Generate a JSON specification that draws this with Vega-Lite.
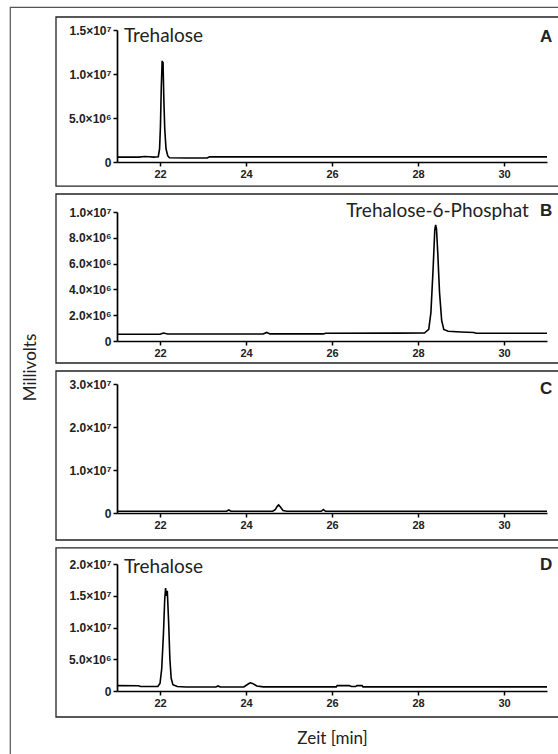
{
  "$schema": "https://vega.github.io/schema/vega-lite/v6.json",
  "width": 550,
  "height": 749,
  "padding": {"left": 10, "top": 7, "right": 0, "bottom": 0},
  "background": "white",
  "config": {
    "view": {"stroke": "#555", "strokeWidth": 1.2},
    "axis": {
      "grid": false,
      "domainColor": "black",
      "domainWidth": 1.7,
      "tickColor": "black",
      "tickWidth": 1.5,
      "tickSize": 4,
      "labelFont": "Liberation Sans",
      "labelFontWeight": "bold",
      "labelFontSize": 11,
      "labelColor": "#222",
      "labelPadding": 2,
      "titleFont": "Lato",
      "titleFontWeight": "normal",
      "titleFontSize": 17,
      "titleColor": "#222"
    },
    "axisY": {"labelFontSize": 12},
    "text": {"font": "Lato", "fontSize": 19, "color": "#222"}
  },
  "datasets": {
    "A": [
      {"t": 21.0, "mv": 550000}, {"t": 21.5, "mv": 550000}, {"t": 21.65, "mv": 620000}, {"t": 21.75, "mv": 600000},
      {"t": 21.85, "mv": 550000}, {"t": 21.96, "mv": 600000}, {"t": 21.99, "mv": 1500000}, {"t": 22.01, "mv": 4000000},
      {"t": 22.03, "mv": 8500000}, {"t": 22.05, "mv": 11500000}, {"t": 22.06, "mv": 11200000}, {"t": 22.07, "mv": 11400000},
      {"t": 22.09, "mv": 7000000}, {"t": 22.11, "mv": 3800000}, {"t": 22.14, "mv": 1500000}, {"t": 22.18, "mv": 700000},
      {"t": 22.22, "mv": 480000}, {"t": 22.6, "mv": 450000}, {"t": 23.1, "mv": 450000}, {"t": 23.15, "mv": 580000},
      {"t": 25.0, "mv": 580000}, {"t": 28.0, "mv": 580000}, {"t": 31.0, "mv": 580000}
    ],
    "B": [
      {"t": 21.0, "mv": 520000}, {"t": 22.0, "mv": 520000}, {"t": 22.08, "mv": 620000}, {"t": 22.18, "mv": 540000},
      {"t": 23.3, "mv": 540000}, {"t": 24.4, "mv": 540000}, {"t": 24.48, "mv": 660000}, {"t": 24.56, "mv": 550000},
      {"t": 25.8, "mv": 550000}, {"t": 25.85, "mv": 600000}, {"t": 27.5, "mv": 610000}, {"t": 28.15, "mv": 620000},
      {"t": 28.25, "mv": 900000}, {"t": 28.3, "mv": 2200000}, {"t": 28.35, "mv": 5500000}, {"t": 28.39, "mv": 8600000},
      {"t": 28.41, "mv": 9000000}, {"t": 28.43, "mv": 8700000}, {"t": 28.46, "mv": 6800000}, {"t": 28.5, "mv": 3800000},
      {"t": 28.55, "mv": 1600000}, {"t": 28.6, "mv": 900000}, {"t": 28.7, "mv": 750000}, {"t": 29.0, "mv": 700000},
      {"t": 29.3, "mv": 660000}, {"t": 29.35, "mv": 600000}, {"t": 31.0, "mv": 600000}
    ],
    "C": [
      {"t": 21.0, "mv": 400000}, {"t": 23.55, "mv": 400000}, {"t": 23.6, "mv": 700000}, {"t": 23.65, "mv": 400000},
      {"t": 24.62, "mv": 400000}, {"t": 24.68, "mv": 800000}, {"t": 24.73, "mv": 1600000}, {"t": 24.76, "mv": 1900000},
      {"t": 24.8, "mv": 1400000}, {"t": 24.86, "mv": 600000}, {"t": 24.95, "mv": 420000}, {"t": 25.75, "mv": 400000},
      {"t": 25.8, "mv": 800000}, {"t": 25.85, "mv": 400000}, {"t": 31.0, "mv": 400000}
    ],
    "D": [
      {"t": 21.0, "mv": 850000}, {"t": 21.5, "mv": 830000}, {"t": 21.55, "mv": 700000}, {"t": 21.95, "mv": 700000},
      {"t": 22.0, "mv": 1200000}, {"t": 22.04, "mv": 3500000}, {"t": 22.08, "mv": 9000000}, {"t": 22.11, "mv": 14500000},
      {"t": 22.13, "mv": 16200000}, {"t": 22.15, "mv": 15000000}, {"t": 22.17, "mv": 15800000}, {"t": 22.2, "mv": 11000000},
      {"t": 22.23, "mv": 5000000}, {"t": 22.26, "mv": 2000000}, {"t": 22.3, "mv": 1000000}, {"t": 22.4, "mv": 700000},
      {"t": 22.6, "mv": 620000}, {"t": 23.3, "mv": 620000}, {"t": 23.35, "mv": 800000}, {"t": 23.4, "mv": 620000},
      {"t": 23.95, "mv": 650000}, {"t": 24.05, "mv": 1100000}, {"t": 24.1, "mv": 1300000}, {"t": 24.15, "mv": 1200000},
      {"t": 24.25, "mv": 800000}, {"t": 24.4, "mv": 650000}, {"t": 26.1, "mv": 650000}, {"t": 26.12, "mv": 850000},
      {"t": 26.4, "mv": 850000}, {"t": 26.45, "mv": 700000}, {"t": 26.55, "mv": 700000}, {"t": 26.58, "mv": 850000},
      {"t": 26.7, "mv": 850000}, {"t": 26.72, "mv": 650000}, {"t": 31.0, "mv": 650000}
    ]
  },
  "layer": [
    {
      "data": {"values": [{"panel": "A"}, {"panel": "B"}, {"panel": "C"}, {"panel": "D"}]},
      "mark": {"type": "rect", "fill": "transparent", "stroke": "#222", "strokeWidth": 1.3, "clip": true},
      "encoding": {
        "y": {
          "field": "panel", "type": "nominal",
          "scale": {"range": [10, 710], "paddingInner": 0.045, "paddingOuter": 0},
          "axis": {"orient": "left", "labels": false, "ticks": false, "domain": false, "title": "Millivolts", "titleX": 25, "titleBaseline": "alphabetic"}
        },
        "x": {
          "datum": "frame", "type": "nominal",
          "scale": {"range": [46, 570], "paddingInner": 0, "paddingOuter": 0},
          "axis": null
        }
      }
    },
    {
      "data": {"name": "A"},
      "layer": [
        {
          "mark": {"type": "line", "color": "black", "strokeWidth": 1.6},
          "encoding": {
            "x": {"field": "t", "type": "quantitative", "scale": {"domain": [21, 31], "range": [107, 537], "nice": false, "zero": false},
                  "axis": {"orient": "bottom", "offset": -594, "values": [22, 24, 26, 28, 30], "title": null}},
            "y": {"field": "mv", "type": "quantitative", "scale": {"domain": [0, 15000000], "range": [155, 23], "nice": false},
                  "axis": {"orient": "left", "offset": -107, "values": [0, 5000000, 10000000, 15000000], "title": null,
                           "labelExpr": "datum.value == 0 ? '0' : datum.value >= 9999999 ? format(datum.value/10000000, '.1f') + '×10⁷' : format(datum.value/1000000, '.1f') + '×10⁶'"}}
          }
        },
        {
          "data": {"values": [{}]},
          "mark": {"type": "text", "align": "left", "baseline": "middle"},
          "encoding": {"x": {"datum": 21.16}, "y": {"datum": 14300000}, "text": {"value": "Trehalose"}}
        },
        {
          "data": {"values": [{}]},
          "mark": {"type": "text", "align": "center", "baseline": "middle", "font": "Liberation Sans", "fontWeight": "bold", "fontSize": 17},
          "encoding": {"x": {"datum": 30.98}, "y": {"datum": 14200000}, "text": {"value": "A"}}
        }
      ]
    },
    {
      "data": {"name": "B"},
      "layer": [
        {
          "mark": {"type": "line", "color": "black", "strokeWidth": 1.6},
          "encoding": {
            "x": {"field": "t", "type": "quantitative", "scale": {"domain": [21, 31], "range": [107, 537], "nice": false, "zero": false},
                  "axis": {"orient": "bottom", "offset": -415, "values": [22, 24, 26, 28, 30], "title": null}},
            "y": {"field": "mv", "type": "quantitative", "scale": {"domain": [0, 10000000], "range": [334, 205], "nice": false},
                  "axis": {"orient": "left", "offset": -107, "values": [0, 2000000, 4000000, 6000000, 8000000, 10000000], "title": null,
                           "labelExpr": "datum.value == 0 ? '0' : datum.value >= 9999999 ? format(datum.value/10000000, '.1f') + '×10⁷' : format(datum.value/1000000, '.1f') + '×10⁶'"}}
          }
        },
        {
          "data": {"values": [{}]},
          "mark": {"type": "text", "align": "right", "baseline": "middle"},
          "encoding": {"x": {"datum": 30.58}, "y": {"datum": 10080000}, "text": {"value": "Trehalose-6-Phosphat"}}
        },
        {
          "data": {"values": [{}]},
          "mark": {"type": "text", "align": "center", "baseline": "middle", "font": "Liberation Sans", "fontWeight": "bold", "fontSize": 17},
          "encoding": {"x": {"datum": 30.98}, "y": {"datum": 10080000}, "text": {"value": "B"}}
        }
      ]
    },
    {
      "data": {"name": "C"},
      "layer": [
        {
          "mark": {"type": "line", "color": "black", "strokeWidth": 1.6},
          "encoding": {
            "x": {"field": "t", "type": "quantitative", "scale": {"domain": [21, 31], "range": [107, 537], "nice": false, "zero": false},
                  "axis": {"orient": "bottom", "offset": -243, "values": [22, 24, 26, 28, 30], "title": null}},
            "y": {"field": "mv", "type": "quantitative", "scale": {"domain": [0, 30000000], "range": [506, 377], "nice": false},
                  "axis": {"orient": "left", "offset": -107, "values": [0, 10000000, 20000000, 30000000], "title": null,
                           "labelExpr": "datum.value == 0 ? '0' : datum.value >= 9999999 ? format(datum.value/10000000, '.1f') + '×10⁷' : format(datum.value/1000000, '.1f') + '×10⁶'"}}
          }
        },
        {
          "data": {"values": [{}]},
          "mark": {"type": "text", "align": "center", "baseline": "middle", "font": "Liberation Sans", "fontWeight": "bold", "fontSize": 17},
          "encoding": {"x": {"datum": 30.98}, "y": {"datum": 28800000}, "text": {"value": "C"}}
        }
      ]
    },
    {
      "data": {"name": "D"},
      "layer": [
        {
          "mark": {"type": "line", "color": "black", "strokeWidth": 1.6},
          "encoding": {
            "x": {"field": "t", "type": "quantitative", "scale": {"domain": [21, 31], "range": [107, 537], "nice": false, "zero": false},
                  "axis": {"orient": "bottom", "offset": -65, "values": [22, 24, 26, 28, 30], "title": "Zeit [min]", "titlePadding": 22}},
            "y": {"field": "mv", "type": "quantitative", "scale": {"domain": [0, 20000000], "range": [684, 557], "nice": false},
                  "axis": {"orient": "left", "offset": -107, "values": [0, 5000000, 10000000, 15000000, 20000000], "title": null,
                           "labelExpr": "datum.value == 0 ? '0' : datum.value >= 9999999 ? format(datum.value/10000000, '.1f') + '×10⁷' : format(datum.value/1000000, '.1f') + '×10⁶'"}}
          }
        },
        {
          "data": {"values": [{}]},
          "mark": {"type": "text", "align": "left", "baseline": "middle"},
          "encoding": {"x": {"datum": 21.16}, "y": {"datum": 19500000}, "text": {"value": "Trehalose"}}
        },
        {
          "data": {"values": [{}]},
          "mark": {"type": "text", "align": "center", "baseline": "middle", "font": "Liberation Sans", "fontWeight": "bold", "fontSize": 17},
          "encoding": {"x": {"datum": 30.98}, "y": {"datum": 19800000}, "text": {"value": "D"}}
        }
      ]
    }
  ],
  "resolve": {"scale": {"x": "independent", "y": "independent"}, "axis": {"x": "independent", "y": "independent"}}
}
